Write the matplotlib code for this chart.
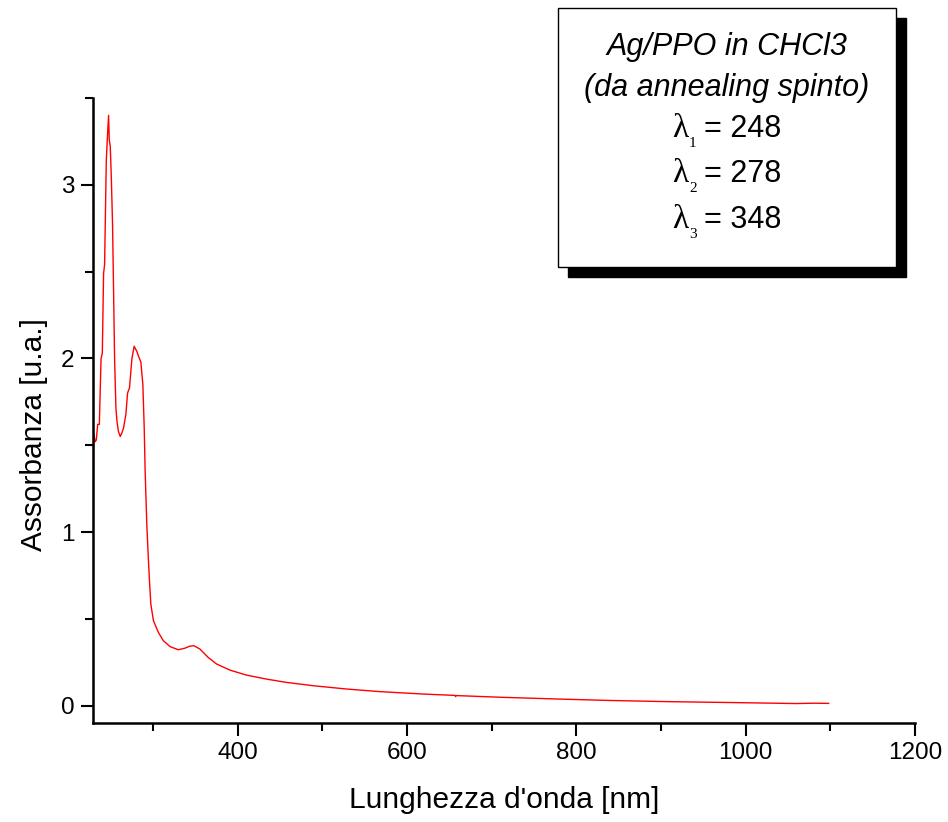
import matplotlib
matplotlib.use("Agg")
import matplotlib.pyplot as plt
from matplotlib.patches import Rectangle
from matplotlib.ticker import MultipleLocator

plt.rcParams["font.family"] = ["Liberation Sans", "DejaVu Sans"]

# UV-Vis absorption spectrum (wavelength in nm, absorbance in a.u.)
wavelength = [229.4, 229.8, 231.5, 232.9, 234.5, 236.5, 238.5, 240.0, 241.5,
              242.7, 244.7, 246.3, 247.4, 248.2, 249.4, 250.6, 252.1, 253.3,
              254.5, 256.1, 257.3, 259.0, 261.2, 263.0, 265.1, 267.9, 269.8,
              272.1, 275.0, 277.6, 280.8, 283.0, 285.5, 287.9, 289.5, 290.6,
              292.5, 294.5, 295.7, 297.3, 300.4, 306.2, 312.1, 320.0, 329.8,
              337.6, 343.0, 348.2, 355.3, 365.0, 374.9, 390.6, 410.2, 433.8,
              457.3, 488.6, 527.9, 567.0, 618.0, 656.5, 657.3, 658.0, 712.0,
              778.8, 837.6, 908.0, 967.0, 1033.7, 1060.0, 1080.0, 1098.0]
absorbance = [1.26, 1.57, 1.52, 1.53, 1.62, 1.62, 2.00, 2.03, 2.49,
              2.54, 3.14, 3.30, 3.40, 3.26, 3.22, 3.05, 2.77, 2.39,
              2.00, 1.71, 1.64, 1.58, 1.55, 1.57, 1.60, 1.68, 1.80,
              1.83, 2.00, 2.07, 2.04, 2.01, 1.98, 1.85, 1.60, 1.35,
              1.05, 0.835, 0.72, 0.585, 0.489, 0.422, 0.374, 0.340, 0.322,
              0.331, 0.342, 0.345, 0.326, 0.278, 0.240, 0.205, 0.176, 0.153,
              0.134, 0.115, 0.096, 0.081, 0.067, 0.059, 0.052, 0.058, 0.048,
              0.038, 0.030, 0.023, 0.019, 0.014, 0.012, 0.014, 0.013]

x_major = [400, 600, 800, 1000, 1200]
y_major = [0, 1, 2, 3]

legend_lines = ["Ag/PPO in CHCl3", "(da annealing spinto)"]
peak_index = ["1", "2", "3"]
peak_nm = [248, 278, 348]

W, H = 948, 822
fig = plt.figure(figsize=(W / 100, H / 100), dpi=100)
ax = fig.add_axes([93 / W, 1 - 723 / H, 822 / W, 625 / H])

ax.plot(wavelength, absorbance, color="#ff0000", lw=1.0)

ax.set_xlim(229.0, 1200)
ax.set_ylim(-0.1, 3.5)
ax.set_xticks(x_major)
ax.set_yticks(y_major)
ax.xaxis.set_minor_locator(MultipleLocator(100))
ax.yaxis.set_minor_locator(MultipleLocator(0.5))

for side in ("top", "right"):
    ax.spines[side].set_visible(False)
for side in ("left", "bottom"):
    ax.spines[side].set_linewidth(1.8)

ax.tick_params(which="major", direction="out", length=9, width=1.5,
               labelsize=17.5, pad=4.5)
ax.tick_params(which="minor", direction="out", length=5.5, width=1.5)

ax.set_xlabel("Lunghezza d'onda [nm]", fontsize=21.5)
ax.set_ylabel("Assorbanza [u.a.]", fontsize=21.5)
ax.xaxis.set_label_coords(0.5, -0.101)
ax.yaxis.set_label_coords(-0.055, 0.461)

# annotation box with drop shadow
bx0, by0 = 558 / W, 1 - 267 / H
bw, bh = 338 / W, 259 / H
sdx, sdy = 10 / W, -10 / H
fig.patches.append(Rectangle((bx0 + sdx, by0 + sdy), bw, bh,
                             transform=fig.transFigure, facecolor="black",
                             edgecolor="black", zorder=1))
fig.patches.append(Rectangle((bx0, by0), bw, bh, transform=fig.transFigure,
                             facecolor="white", edgecolor="black", lw=1.0,
                             zorder=2))

cx = 727 / W
for txt, base in zip(legend_lines, [55, 96]):
    fig.text(cx, 1 - base / H, txt, fontsize=22, style="italic",
             ha="center", va="baseline", zorder=3)

# peak wavelengths: serif lambda with a dropped subscript, then the value
for idx, nm, base in zip(peak_index, peak_nm, [137, 182, 228]):
    fig.text(672 / W, 1 - base / H, "\u03bb", fontsize=24,
             family="Liberation Serif", ha="left", va="baseline", zorder=3)
    fig.text(689 / W, 1 - (base + 10) / H, idx, fontsize=11,
             family="Liberation Serif", ha="left", va="baseline", zorder=3)
    fig.text(704 / W, 1 - base / H, f"= {nm}", fontsize=22,
             ha="left", va="baseline", zorder=3)

fig.savefig("out.png", dpi=100)
